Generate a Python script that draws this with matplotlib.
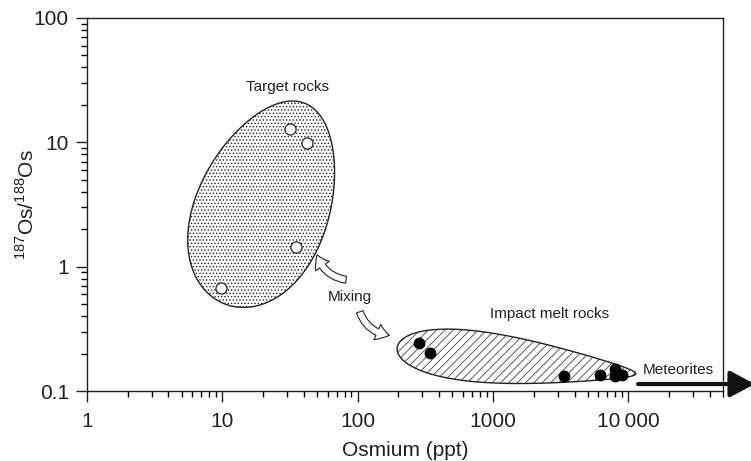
import numpy as np
import matplotlib
matplotlib.use("Agg")
import matplotlib.pyplot as plt
from matplotlib.patches import Polygon, FancyArrowPatch

plt.rcParams['font.family'] = ['Liberation Sans', 'DejaVu Sans']
plt.rcParams['mathtext.fontset'] = 'custom'
plt.rcParams['mathtext.rm'] = 'Liberation Sans'
plt.rcParams['hatch.linewidth'] = 0.6

# target rocks (open circles)
target_os = [31.5, 42, 35, 9.8]
target_ratio = [12.8, 9.9, 1.44, 0.67]
# impact melt rocks (filled circles)
melt_os = [282, 340, 3370, 6200, 8000, 7900, 9000]
melt_ratio = [0.245, 0.203, 0.131, 0.135, 0.150, 0.132, 0.134]

x_ticks = [1, 10, 100, 1000, 10000]
x_ticklabels = ['1', '10', '100', '1000', '10\u2009000']
y_ticks = [0.1, 1, 10, 100]
y_ticklabels = ['0.1', '1', '10', '100']

fig = plt.figure(figsize=(7.51, 4.61), dpi=100)
ax = fig.add_axes([0.1158, 0.1518, 0.8469, 0.8092])
ax.set_xscale('log')
ax.set_yscale('log')
ax.set_xlim(1, 50000)
ax.set_ylim(0.1, 100)


def blob(cx, cy, a, b, ang, egg=0.0, n=300):
    # outline of an (egg shaped) ellipse, sizes in pixels, centre in data
    pos = ax.get_position()
    W, H = fig.get_size_inches() * fig.dpi
    x0, x1 = ax.get_xlim()
    y0, y1 = ax.get_ylim()
    kx = pos.width * W / np.log10(x1 / x0)
    ky = pos.height * H / np.log10(y1 / y0)
    t = np.linspace(0, 2 * np.pi, n)
    s = a * np.cos(t)
    w = b * np.sin(t) * (1 - egg * np.cos(t))
    th = np.radians(ang)
    px = s * np.cos(th) - w * np.sin(th)
    py = s * np.sin(th) + w * np.cos(th)
    return np.column_stack([cx * 10 ** (px / kx), cy * 10 ** (py / ky)])


# target rocks field
tgt = blob(20.5, 3.22, 108, 66, 68, egg=0.12)
ax.add_patch(Polygon(tgt, closed=True, fill=False, hatch='.....',
                     edgecolor='#222222', lw=0, zorder=1))
ax.add_patch(Polygon(tgt, closed=True, fill=False, edgecolor='#222222',
                     lw=1.0, zorder=2))

# impact melt rocks field
mlt = blob(1490, 0.175, 120, 22.8, -6.2, egg=0.53)
ax.add_patch(Polygon(mlt, closed=True, fill=False, hatch='////',
                     edgecolor='#444444', lw=0, zorder=1))
ax.add_patch(Polygon(mlt, closed=True, fill=False, edgecolor='#222222',
                     lw=1.0, zorder=2))

ax.plot(target_os, target_ratio, 'o', ms=8, mfc='white', mec='#222222',
        mew=0.9, zorder=3)
ax.plot(melt_os, melt_ratio, 'o', ms=7.5, mfc='black', mec='black', zorder=3)

# mixing arrows
astyle = 'simple,head_length=9,head_width=12,tail_width=5'
ax.add_patch(FancyArrowPatch((86, 0.78), (49.5, 1.31), arrowstyle=astyle,
                             connectionstyle='arc3,rad=-0.35', mutation_scale=1,
                             fc='white', ec='#222222', lw=0.8, zorder=4))
ax.add_patch(FancyArrowPatch((102, 0.455), (180, 0.28), arrowstyle=astyle,
                             connectionstyle='arc3,rad=0.35', mutation_scale=1,
                             fc='white', ec='#222222', lw=0.8, zorder=4))

# meteorites arrow
ax.annotate('', xy=(1.05, 0.1138), xycoords=('axes fraction', 'data'),
            xytext=(11800, 0.1138), textcoords='data',
            arrowprops=dict(arrowstyle='-|>,head_length=1.5,head_width=0.8',
                            lw=3, color='#111111', shrinkA=0, shrinkB=0),
            annotation_clip=False)

ax.text(30.4, 27.9, 'Target rocks', fontsize=11, ha='center', va='center', color='#231f20')
ax.text(87.3, 0.57, 'Mixing', fontsize=11, ha='center', va='center', color='#231f20')
ax.text(2612, 0.416, 'Impact melt rocks', fontsize=11, ha='center', va='center', color='#231f20')
ax.text(23400, 0.1476, 'Meteorites', fontsize=11, ha='center', va='center', color='#231f20')

ax.set_xticks(x_ticks)
ax.set_xticklabels(x_ticklabels)
ax.set_yticks(y_ticks)
ax.set_yticklabels(y_ticklabels)
ax.tick_params(which='major', length=8, width=1, labelsize=15, pad=5,
               colors='#231f20')
ax.tick_params(axis='x', which='major', pad=7)
ax.tick_params(which='minor', length=4.5, width=1)
for sp in ax.spines.values():
    sp.set_linewidth(1)
    sp.set_color('#231f20')

ax.set_xlabel('Osmium (ppt)', fontsize=15, labelpad=7, color='#231f20')
ax.set_ylabel('$^{187}$Os/$^{188}$Os', fontsize=15, labelpad=-3, color='#231f20')

fig.savefig('out.png', dpi=100)
